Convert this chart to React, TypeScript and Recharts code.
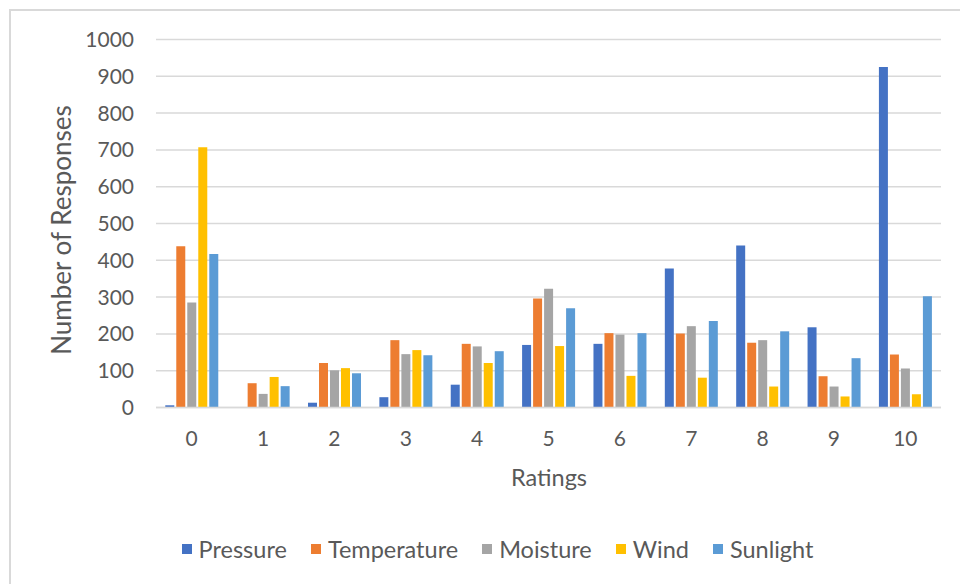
import React from 'react';
import { BarChart, Bar, XAxis, YAxis, CartesianGrid, Legend, Label } from 'recharts';

const categories = ['0', '1', '2', '3', '4', '5', '6', '7', '8', '9', '10'];
const pressure = [6, 0, 13, 28, 62, 170, 173, 378, 440, 218, 925];
const temperature = [438, 66, 121, 183, 173, 296, 202, 201, 176, 85, 144];
const moisture = [285, 37, 101, 145, 166, 323, 198, 221, 183, 57, 106];
const wind = [707, 83, 107, 156, 121, 167, 86, 81, 57, 30, 36];
const sunlight = [417, 58, 93, 142, 153, 270, 202, 235, 207, 134, 302];
const yTicks = [0, 100, 200, 300, 400, 500, 600, 700, 800, 900, 1000];

const series = [
  { key: 'Pressure', values: pressure, color: '#4472C4' },
  { key: 'Temperature', values: temperature, color: '#ED7D31' },
  { key: 'Moisture', values: moisture, color: '#A5A5A5' },
  { key: 'Wind', values: wind, color: '#FFC000' },
  { key: 'Sunlight', values: sunlight, color: '#5B9BD5' },
];

const data = categories.map((c, i) => {
  const row: Record<string, number | string> = { rating: c };
  series.forEach((s) => {
    row[s.key] = s.values[i];
  });
  return row;
});

const FONT = 'Lato, "Open Sans", sans-serif';
const TEXT = '#595959';
const FS = 21;
const LEGEND_FS = 23.5;
const TITLE_FS = 23.5;
const YTITLE_FS = 26;

const LegendContent = () => (
  <div style={{ display: 'flex', justifyContent: 'center', alignItems: 'center', fontFamily: FONT, fontSize: LEGEND_FS, color: TEXT, height: 30, paddingLeft: 35 }}>
    {series.map((s, i) => (
      <div key={s.key} style={{ display: 'flex', alignItems: 'center', marginRight: i < series.length - 1 ? 24 : 0 }}>
        <span style={{ display: 'inline-block', width: 10, height: 10, background: s.color, marginRight: 7 }} />
        <span>{s.key}</span>
      </div>
    ))}
  </div>
);

export default function App() {
  return (
    <div style={{ position: 'absolute', left: 0, top: 0, width: 960, height: 584, overflow: 'hidden', background: '#fff' }}>
      <div style={{ position: 'absolute', left: 9, top: 9, width: 1000, height: 700, border: '2px solid #D9D9D9', boxSizing: 'border-box' }} />
      <div style={{ position: 'absolute', left: 0, top: 0 }}>
        <BarChart
          width={960}
          height={584}
          data={data}
          margin={{ top: 39.5, right: 19, left: 0, bottom: 136.5 }}
          barCategoryGap="13%"
          barGap={2}
        >
          <CartesianGrid vertical={false} stroke="#D9D9D9" strokeWidth={1.5} />
          <XAxis
            dataKey="rating"
            height={40}
            tickLine={false}
            tickSize={0}
            tickMargin={24}
            axisLine={{ stroke: '#D9D9D9', strokeWidth: 1.5 }}
            tick={{ fill: TEXT, fontSize: FS, fontFamily: FONT }}
            interval={0}
          >
            <Label
              content={() => (
                <text x={549} y={486} textAnchor="middle" fill={TEXT} fontSize={TITLE_FS} fontFamily={FONT}>
                  Ratings
                </text>
              )}
            />
          </XAxis>
          <YAxis
            width={156}
            domain={[0, 1000]}
            ticks={yTicks}
            interval={0}
            axisLine={false}
            tickLine={false}
            tickSize={0}
            tickMargin={22}
            tick={{ fill: TEXT, fontSize: FS, fontFamily: FONT }}
          >
            <Label
              content={() => (
                <text
                  x={0}
                  y={0}
                  transform="translate(71, 230) rotate(-90)"
                  textAnchor="middle"
                  fill={TEXT}
                  fontSize={YTITLE_FS}
                  fontFamily={FONT}
                >
                  Number of Responses
                </text>
              )}
            />
          </YAxis>
          <Legend
            layout="horizontal"
            verticalAlign="middle"
            align="center"
            wrapperStyle={{ top: 534, left: 0, width: 960 }}
            content={LegendContent}
          />
          {series.map((s) => (
            <Bar key={s.key} dataKey={s.key} fill={s.color} isAnimationActive={false} />
          ))}
        </BarChart>
      </div>
    </div>
  );
}
